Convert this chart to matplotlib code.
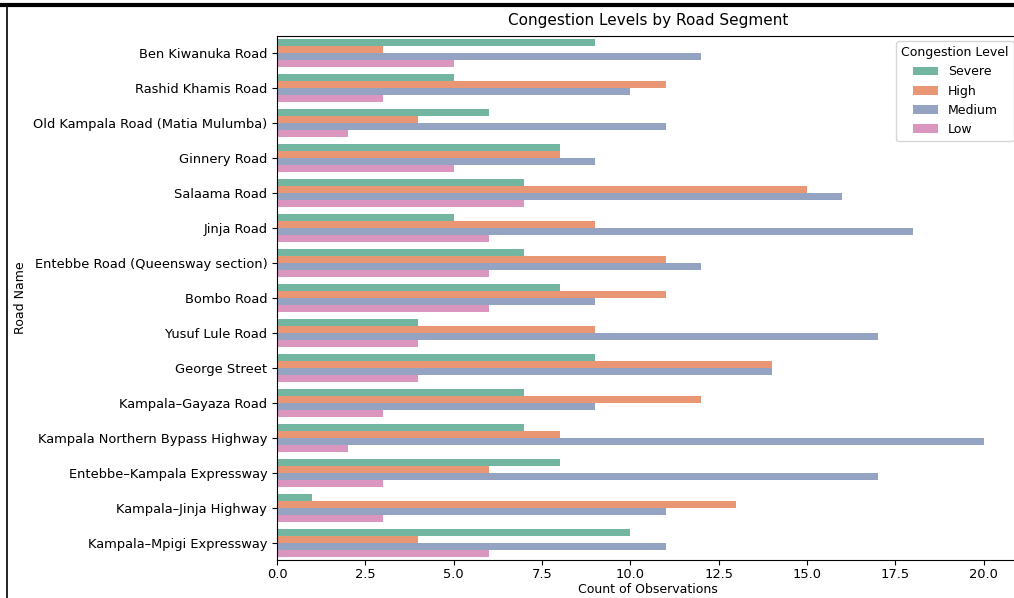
import matplotlib
matplotlib.use("Agg")
import matplotlib.pyplot as plt
from matplotlib.lines import Line2D
import pandas as pd
import seaborn as sns

roads = [
    "Ben Kiwanuka Road",
    "Rashid Khamis Road",
    "Old Kampala Road (Matia Mulumba)",
    "Ginnery Road",
    "Salaama Road",
    "Jinja Road",
    "Entebbe Road (Queensway section)",
    "Bombo Road",
    "Yusuf Lule Road",
    "George Street",
    "Kampala–Gayaza Road",
    "Kampala Northern Bypass Highway",
    "Entebbe–Kampala Expressway",
    "Kampala–Jinja Highway",
    "Kampala–Mpigi Expressway",
]
levels = ["Severe", "High", "Medium", "Low"]
severe = [9, 5, 6, 8, 7, 5, 7, 8, 4, 9, 7, 7, 8, 1, 10]
high = [3, 11, 4, 8, 15, 9, 11, 11, 9, 14, 12, 8, 6, 13, 4]
medium = [12, 10, 11, 9, 16, 18, 12, 9, 17, 14, 9, 20, 17, 11, 11]
low = [5, 3, 2, 5, 7, 6, 6, 6, 4, 4, 3, 2, 3, 3, 6]

series = {"Severe": severe, "High": high, "Medium": medium, "Low": low}
rows = []
for lvl in levels:
    for r, v in zip(roads, series[lvl]):
        rows.append({"Road Name": r, "Congestion Level": lvl, "Count": v})
df = pd.DataFrame(rows)

fig = plt.figure(figsize=(10.14, 5.98), dpi=100)
ax = fig.add_axes([277 / 1014, 1 - 560 / 598, (1019 - 277) / 1014, (560 - 36) / 598])
sns.barplot(data=df, y="Road Name", x="Count", hue="Congestion Level",
            order=roads, hue_order=levels, palette="Set2", orient="h", ax=ax)
ax.set_title("Congestion Levels by Road Segment", fontsize=11, pad=8)
ax.set_xlabel("Count of Observations", fontsize=9, labelpad=2)
ax.set_ylabel("Road Name", fontsize=9, labelpad=4)
ax.tick_params(axis="y", labelsize=9.4)
ax.tick_params(axis="x", labelsize=9.4, pad=2)
ax.legend(title="Congestion Level", loc="upper right", fontsize=9, title_fontsize=9,
          borderaxespad=0.4)

fig.add_artist(Line2D([0, 1], [1 - 5 / 598, 1 - 5 / 598], color="black", lw=3,
                      transform=fig.transFigure))
fig.add_artist(Line2D([6.5 / 1014, 6.5 / 1014], [0, 1 - 5 / 598], color="black", lw=1.2,
                      transform=fig.transFigure))

fig.savefig("out.png", dpi=100)
